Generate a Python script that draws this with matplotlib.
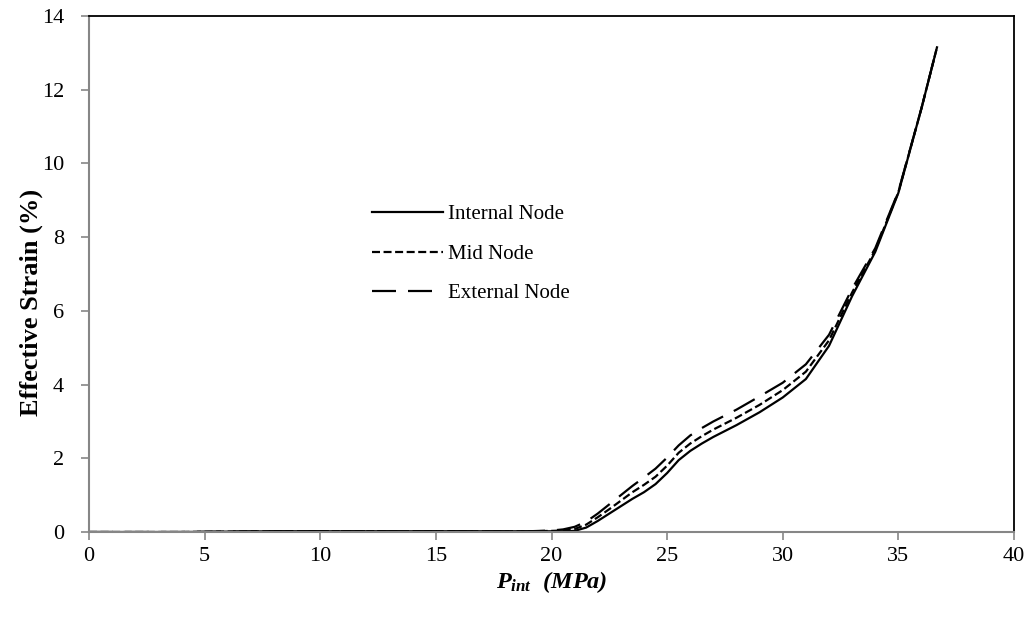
import matplotlib
matplotlib.use("Agg")
import matplotlib.pyplot as plt

# Data
p_int = [0, 2, 4, 6, 8, 10, 12, 14, 16, 18, 19, 20, 20.5, 21, 21.5, 22, 22.5, 23,
         23.5, 24, 24.5, 25, 25.5, 26, 26.5, 27, 28, 29, 30, 31, 32, 33, 34, 35, 36, 36.67]
internal_node = [0, 0, 0, 0.01, 0.02, 0.02, 0.02, 0.02, 0.02, 0.02, 0.02, 0.02, 0.02, 0.03,
                 0.12, 0.3, 0.5, 0.7, 0.9, 1.08, 1.3, 1.6, 1.95, 2.2, 2.4, 2.58, 2.9, 3.25,
                 3.65, 4.15, 5.05, 6.4, 7.6, 9.2, 11.5, 13.15]
mid_node = [0, 0, 0, 0.01, 0.02, 0.02, 0.02, 0.02, 0.02, 0.02, 0.02, 0.03, 0.04, 0.08,
            0.2, 0.4, 0.62, 0.85, 1.08, 1.28, 1.5, 1.8, 2.15, 2.4, 2.6, 2.78, 3.1, 3.45,
            3.85, 4.35, 5.2, 6.5, 7.65, 9.22, 11.5, 13.15]
external_node = [0, 0, 0, 0.01, 0.02, 0.02, 0.02, 0.02, 0.02, 0.02, 0.02, 0.04, 0.07, 0.14,
                 0.28, 0.5, 0.75, 1.0, 1.25, 1.48, 1.72, 2.02, 2.35, 2.62, 2.82, 3.0, 3.32,
                 3.68, 4.05, 4.55, 5.35, 6.6, 7.7, 9.24, 11.5, 13.15]
labels = ["Internal Node", "Mid Node", "External Node"]
x_ticks = [0, 5, 10, 15, 20, 25, 30, 35, 40]
y_ticks = [0, 2, 4, 6, 8, 10, 12, 14]

plt.rcParams['font.family'] = ['Liberation Serif', 'DejaVu Serif']
plt.rcParams['mathtext.fontset'] = 'custom'
plt.rcParams['mathtext.rm'] = 'Liberation Serif:bold'
plt.rcParams['mathtext.it'] = 'Liberation Serif:italic:bold'
plt.rcParams['mathtext.bf'] = 'Liberation Serif:bold'

fig = plt.figure(figsize=(10.33, 6.17), dpi=100)
ax = fig.add_axes([89/1033, 1-532/617, (1014-89)/1033, (532-16)/617])

lw = 1.6
ax.plot(p_int, internal_node, color='black', lw=lw, linestyle='-', label=labels[0])
ax.plot(p_int, mid_node, color='black', lw=lw, linestyle=(0, (3.6, 1.6)), label=labels[1])
ax.plot(p_int, external_node, color='black', lw=lw, linestyle=(0, (10.8, 5.4)), label=labels[2])

ax.set_xlim(0, 40)
ax.set_ylim(0, 14)
ax.set_xticks(x_ticks)
ax.set_yticks(y_ticks)

gray = '#868686'
for s in ['left', 'bottom']:
    ax.spines[s].set_color(gray)
    ax.spines[s].set_linewidth(1.5)
for s in ['top', 'right']:
    ax.spines[s].set_color('black')
    ax.spines[s].set_linewidth(1.3)
ax.tick_params(axis='both', direction='out', color=gray, width=1.2, length=6,
               labelsize=16)
ax.tick_params(axis='y', pad=12)
ax.tick_params(axis='x', pad=5)

ax.set_ylabel("Effective Strain (%)", fontsize=19, fontweight='bold')
ax.yaxis.set_label_coords(-0.05, 0.445)
ax.set_xlabel(r"$P_{int}$  (MPa)", fontsize=17.5, fontweight='bold',
              fontstyle='italic', labelpad=2)

leg = ax.legend(loc='center left', bbox_to_anchor=((372-89)/925, (532-254)/516),
                frameon=False, fontsize=15, handlelength=3.4, handletextpad=0.25,
                labelspacing=0.95, borderpad=0, borderaxespad=0)

fig.savefig("out.png", dpi=100)
